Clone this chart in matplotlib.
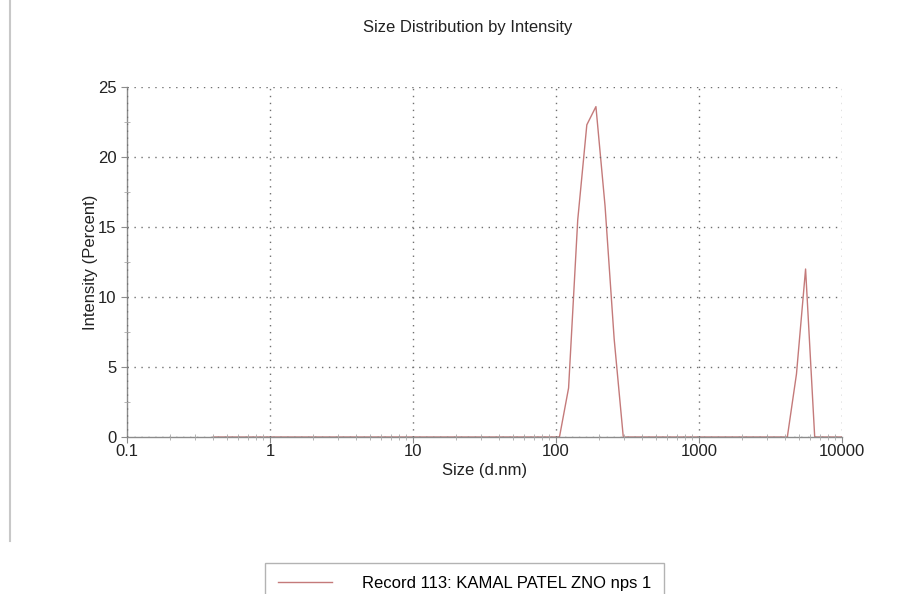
import matplotlib
matplotlib.use("Agg")
import matplotlib.pyplot as plt
from matplotlib.lines import Line2D
from matplotlib.ticker import LogLocator, FixedLocator, NullFormatter

plt.rcParams['font.family'] = ['Liberation Sans Narrow', 'Liberation Sans', 'DejaVu Sans']

# size bins (d.nm) and intensity (%)
size_nm = [0.4, 78.82, 91.28, 105.7, 122.4, 141.8, 164.2, 190.1, 220.2, 255.0,
           295.3, 342.0, 3580, 4145, 4801, 5560, 6439, 7456, 10000]
intensity = [0.0, 0.0, 0.0, 0.0, 3.5, 15.5, 22.3, 23.6, 16.5, 7.0,
             0.0, 0.0, 0.0, 0.0, 4.5, 12.0, 0.0, 0.0, 0.0]
x_ticks = [0.1, 1, 10, 100, 1000, 10000]
x_labels = ["0.1", "1", "10", "100", "1000", "10000"]
y_ticks = [0, 5, 10, 15, 20, 25]
legend_label = "Record 113: KAMAL PATEL ZNO nps 1"

fig = plt.figure(figsize=(9.06, 5.94), dpi=100)
ax = fig.add_axes([0.1402, 0.2643, 0.7892, 0.5892])

line_color = '#c47a7a'
ax.plot(size_nm, intensity, color=line_color, lw=1.0, label=legend_label)

ax.set_xscale('log')
ax.set_xlim(0.1, 10000)
ax.set_ylim(0, 25)
ax.set_xticks(x_ticks)
ax.set_xticklabels(x_labels)
ax.xaxis.set_minor_locator(LogLocator(base=10, subs=range(2, 10)))
ax.xaxis.set_minor_formatter(NullFormatter())
ax.set_yticks(y_ticks)
ax.yaxis.set_minor_locator(FixedLocator([2.5, 7.5, 12.5, 17.5, 22.5]))

for s in ['top', 'right']:
    ax.spines[s].set_visible(False)
for s in ['left', 'bottom']:
    ax.spines[s].set_color('#8c8c8c')
    ax.spines[s].set_linewidth(1.0)

ax.tick_params(axis='both', which='major', colors='#8c8c8c', labelcolor='#222222',
               labelsize=12, length=4, direction='out')
ax.tick_params(axis='both', which='minor', colors='#a8a8a8', length=5, direction='inout')
ax.tick_params(axis='x', which='major', pad=1)

ax.grid(True, which='major', color='#707070', linestyle=(0, (1, 4)), lw=1.0)
ax.set_axisbelow(False)

ax.set_xlabel("Size (d.nm)", fontsize=12, color='#222222', labelpad=3)
ax.set_ylabel("Intensity (Percent)", fontsize=12, color='#222222', labelpad=0)
fig.text(0.516, 0.953, "Size Distribution by Intensity", ha='center', va='center',
         fontsize=12, color='#222222')

# left border line of the original report page
fig.add_artist(Line2D([0.011, 0.011], [0.09, 1.0], color='#c8c8c8', lw=1.5))

leg = fig.legend(loc='upper center', bbox_to_anchor=(0.513, 1 - 563 / 594),
                 fontsize=12, frameon=True, fancybox=False, handlelength=3.2,
                 borderpad=0.8, borderaxespad=0, handletextpad=1.8)
leg.get_frame().set_edgecolor('#a0a0a0')
leg.get_frame().set_linewidth(1.0)

fig.savefig("out.png", dpi=100)
